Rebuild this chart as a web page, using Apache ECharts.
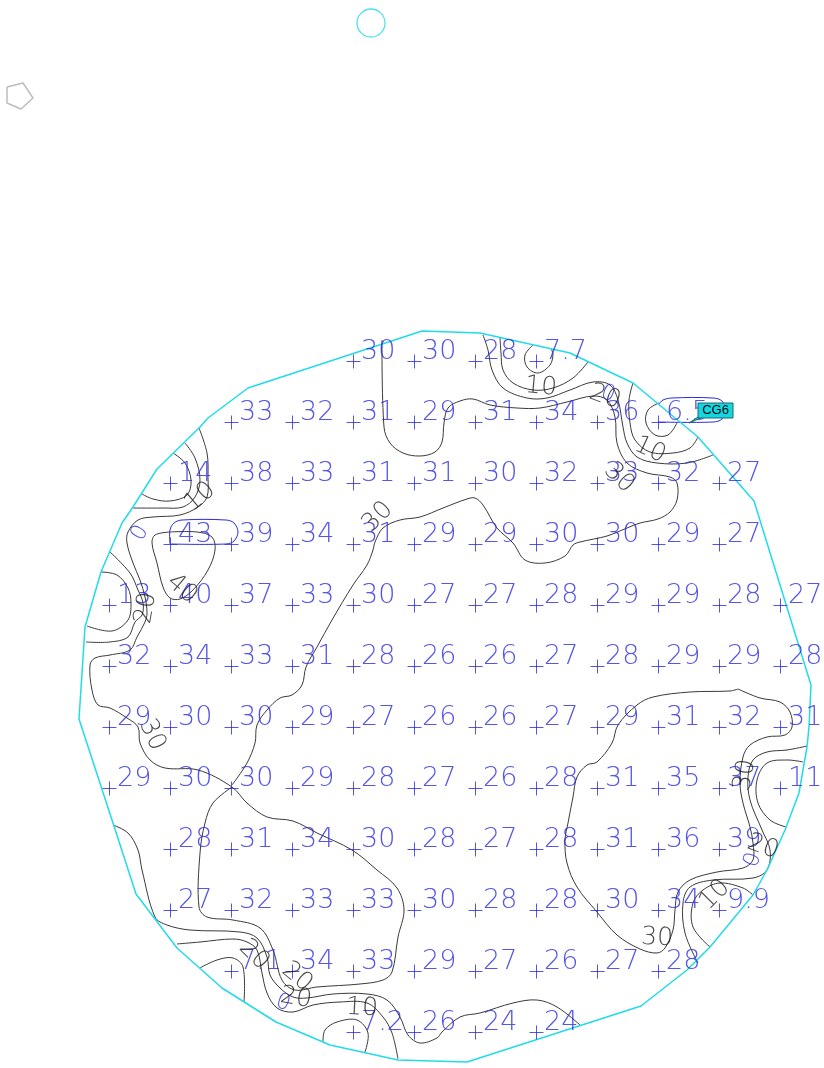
<!DOCTYPE html>
<html><head><meta charset="utf-8">
<style>html,body{margin:0;padding:0;background:#fff}#c{width:824px;height:1068px}</style>
<script src="https://cdn.jsdelivr.net/npm/echarts@6/dist/echarts.min.js"></script>
</head><body><div id="c"></div>
<script>
const colX=[109.5,170.5,231.5,292.5,353.5,414.5,475.5,536.5,597.5,658.5,719.5,780.5];
const rowY=[361.5,422.5,483.5,544.5,605.5,666.5,727.5,788.5,849.5,910.5,971.5,1032.5];
const samples=[
['','','','','30','30','28','7.7','','','',''],
['','','33','32','31','29','31','34','36','6.5','',''],
['','14','38','33','31','31','30','32','33','32','27',''],
['','43','39','34','31','29','29','30','30','29','27',''],
['13','40','37','33','30','27','27','28','29','29','28','27'],
['32','34','33','31','28','26','26','27','28','29','29','28'],
['29','30','30','29','27','26','26','27','29','31','32','31'],
['29','30','30','29','28','27','26','28','31','35','37','11'],
['','28','31','34','30','28','27','28','31','36','39',''],
['','27','32','33','33','30','28','28','30','34','9.9',''],
['','','7.1','34','33','29','27','26','27','28','',''],
['','','','','7.2','26','24','24','','','','']
];
const boundary=[[422,331],[480,333],[570,353],[633,383],[698,437],[754,501],[811,685],[809,727],[807,747],[799,793],[785,830],[767,870],[753,895],[710,947],[687,970],[641,1006],[467,1062],[398,1060],[330,1045],[276,1022],[222,988],[177,948],[136,894],[113,823],[79,719],[85,627],[101,572],[122,523],[133,507],[157,469],[200,427],[208,418],[248,388],[422,331]];
const pentagon=[[7,87],[23,83],[33,98],[21,109],[7,103],[7,87]];
const ringMark=[[371,23]];
const lineNorth=[[232,785],[247,763],[255,743],[257,725],[267,710],[280,698],[292,695],[302,685],[306,667],[317,647],[332,620],[353,585],[367,565],[373,550],[375,542],[383,528],[400,520],[420,517],[443,508],[467,499],[475,498],[483,505],[497,528],[513,543],[525,560],[545,563],[565,556],[573,545],[580,542],[607,536],[627,528],[640,523],[658,519],[670,512],[677,500],[677,483],[670,477],[647,473],[627,463],[617,443],[615,417],[607,400],[593,396],[567,402],[540,408],[517,408],[490,405],[473,399],[460,401],[448,408],[444,423],[442,442],[435,452],[420,456],[403,453],[390,443],[384,427],[382,340]];
const lineCentral=[[199,428],[207,453],[208,477],[207,497],[198,507],[180,515],[153,517],[138,520],[128,532],[127,543],[133,563],[140,580],[145,597],[147,613],[145,622],[137,637],[130,650],[110,655],[95,658],[90,665],[92,690],[98,705],[110,708],[127,718],[138,727],[140,743],[150,760],[165,768],[198,770],[232,787],[247,803],[267,817],[293,821],[317,833],[352,850],[377,870],[397,888],[404,910],[398,937],[392,972],[383,980],[360,984],[317,987],[295,990],[282,980],[273,950],[260,928],[233,920],[207,917],[199,907],[200,853],[205,823],[213,803],[232,787]];
const lineTopInner=[[500,337],[501,353],[503,370],[513,383],[533,390],[553,388],[573,378],[588,362]];
const lineTopOuter=[[483,335],[488,350],[492,370],[503,388],[527,398],[547,398],[570,390],[593,382],[610,385],[618,400],[623,427],[627,443],[637,457],[657,463],[687,463],[713,455]];
const lineTopRight=[[633,383],[629,400],[630,423],[635,440],[650,452],[673,453],[690,448],[698,437]];
const ringNorth=[[533,345],[525,355],[527,367],[538,373],[550,365],[553,354],[551,349]];
const ringEast=[[659,403],[648,410],[646,423],[655,435],[668,435],[677,423]];
const arcMid=[[185,443],[195,458],[200,480],[195,497],[183,507],[163,508],[133,508]];
const arcInner=[[173,453],[185,463],[191,480],[187,495],[170,501],[153,499],[142,494]];
const loopWest=[[170,532],[155,535],[152,543],[157,563],[163,587],[170,598],[180,599],[193,590],[208,570],[215,550],[212,537],[197,532],[170,532]];
const westOuter=[[110,552],[130,573],[138,590],[143,603],[142,615],[135,622],[128,637],[110,642],[86,642]];
const westInner=[[101,572],[117,575],[128,588],[131,603],[128,620],[112,631],[87,626]];
const lineSouth=[[113,825],[128,833],[138,850],[142,870],[155,917],[167,925],[190,930],[240,932],[257,938],[267,957],[270,975],[280,988],[293,997],[307,998],[333,994],[367,994],[387,1000],[400,1017],[408,1035],[420,1043],[437,1038],[442,1032],[460,1017],[480,1013],[513,1003],[537,1000],[557,1007],[580,1025]];
const lineSouthTwo=[[177,944],[200,942],[233,939],[247,942],[257,950],[262,973],[267,993],[277,1008],[293,1012],[313,1005],[340,1002],[367,1003],[383,1017],[392,1033],[398,1059]];
const hookSouth=[[200,968],[217,960],[233,958],[243,967],[244,1002]];
const ringSouth=[[323,1042],[325,1030],[337,1022],[357,1020],[368,1033],[365,1052]];
const blobEast=[[738,689],[760,698],[780,702],[790,712],[792,727],[785,735],[767,737],[750,745],[743,757],[740,783],[743,803],[750,827],[753,843],[753,860],[743,868],[717,872],[690,880],[678,892],[675,910],[673,930],[665,948],[657,953],[640,949],[617,935],[597,912],[577,887],[567,863],[565,840],[568,823],[573,797],[577,777],[587,765],[597,762],[612,743],[618,725],[637,705],[653,697],[690,692],[730,691],[738,689]];
const eastOuter=[[807,746],[787,750],[767,752],[753,760],[748,777],[750,800],[762,830],[770,850],[767,870],[753,878],[713,880],[690,887],[683,903],[685,933],[698,963]];
const eastInner=[[803,762],[787,760],[767,763],[757,780],[758,803],[770,820],[786,827]];
const southEast=[[753,895],[743,888],[720,883],[703,890],[693,903],[693,927],[710,947]];
const boxWest=[[170,544],[226,544],[234,541],[238,532],[234,523],[226,520],[182,520],[174,523],[170,530],[170,544]];
const boxEast=[[658,422],[713,422],[722,419],[725,410],[722,401],[713,398],[672,398],[663,400],[659,404]];
const contourText=['10','20','10','30','30','10','20','40','30','20','20','20','10','30','30','10','20'];
const contourX=[541,605,650,619,378,200,146,182,152,254,297,296,362,657,745,715,763];
const contourY=[387,397,450,478,517,497,608,589,735,955,977,998,1008,938,775,895,847];
const contourAngle=[-5,-20,-25,-45,45,40,80,-40,-65,-45,-40,-10,-3,-3,80,45,-20];
const blueZeroX=[140,608,283,753];
const blueZeroY=[533,394,1003,860];
const blueZeroAngle=[60,-20,-20,70];
const calloutText='CG6';
const calloutAnchor=[689,423];

const contours=[lineNorth,lineCentral,lineTopInner,lineTopOuter,lineTopRight,ringNorth,ringEast,arcMid,arcInner,loopWest,westOuter,westInner,lineSouth,lineSouthTwo,hookSouth,ringSouth,blobEast,eastOuter,eastInner,southEast];
const FONT='"DejaVu Sans"';
const BLUE='#2a2ae0', DARK='#3a3a3a', INK='#1c1c1c', CYAN='#22dbe8';
const samplePts=[];
samples.forEach((r,i)=>r.forEach((t,j)=>{if(t)samplePts.push([colX[j],rowY[i],t]);}));
const lineS=(d,color,width)=>({type:'line',data:d,symbol:'none',smooth:false,silent:true,clip:false,lineStyle:{color:color,width:width},z:2});
const curveS=(d,color,width)=>({type:'custom',coordinateSystem:'cartesian2d',data:d,encode:{x:0,y:1},silent:true,clip:false,z:2,
  renderItem:(p,api)=>p.dataIndex?null:({type:'polyline',shape:{points:d.map(q=>api.coord(q)),smooth:0.35},style:{fill:null,stroke:color,lineWidth:width}})});
const pinLabel=(texts,xs,ys,angles,color,size)=>({type:'scatter',symbol:'circle',symbolSize:1,silent:true,z:5,itemStyle:{color:'transparent'},
  data:texts.map((t,i)=>({value:[xs[i],ys[i],t],label:{rotate:angles[i]}})),
  label:{show:true,position:'inside',align:'center',verticalAlign:'middle',color:color,fontFamily:FONT,fontWeight:200,fontSize:size,formatter:p=>p.data.value[2]}});
const series=[];
series.push(lineS(boundary,CYAN,1.5));
series.push(lineS(pentagon,'#bdbdbd',1.5));
contours.forEach(c=>series.push(curveS(c,DARK,1)));
series.push(curveS(boxWest,BLUE,1));
series.push(curveS(boxEast,BLUE,1));
series.push({type:'scatter',data:ringMark,symbol:'circle',symbolSize:28,silent:true,itemStyle:{color:'transparent',borderColor:CYAN,borderWidth:1.3},z:3});
series.push({type:'scatter',data:samplePts,symbol:'path://M0 7H14M7 0V14',symbolSize:14,silent:true,
 itemStyle:{color:'transparent',borderColor:BLUE,borderWidth:1},z:4,
 label:{show:true,position:[15,-16],align:'left',verticalAlign:'top',color:BLUE,fontFamily:FONT,fontWeight:200,fontSize:27,lineHeight:27,formatter:p=>p.data[2]}});
series.push(pinLabel(contourText,contourX,contourY,contourAngle,INK,25));
series.push(pinLabel(blueZeroX.map(()=>'0'),blueZeroX,blueZeroY,blueZeroAngle,BLUE,22));
const chart=echarts.init(document.getElementById('c'),null,{renderer:'canvas'});
chart.setOption({animation:false,backgroundColor:'#fff',
 grid:{left:0,right:0,top:0,bottom:0},
 xAxis:{type:'value',min:0,max:824,show:false},
 yAxis:{type:'value',min:0,max:1068,inverse:true,show:false},
 series:series
});
const anchor=chart.convertToPixel({gridIndex:0},calloutAnchor);
chart.setOption({graphic:[
 {type:'polygon',z:10,shape:{points:[[anchor[0],anchor[1]],[anchor[0]+9,anchor[1]-6],[anchor[0]+14,anchor[1]-6]]},style:{fill:'#12d6e0',stroke:'#1a6a70',lineWidth:1}},
 {type:'rect',z:10,shape:{x:anchor[0]+9,y:anchor[1]-20,width:35,height:15},style:{fill:'#12d6e0',stroke:'#1a6a70',lineWidth:1}},
 {type:'text',z:11,style:{x:anchor[0]+26.5,y:anchor[1]-12.5,text:calloutText,fill:'#000',font:'13px "Liberation Sans"',align:'center',verticalAlign:'middle'}}
]});
</script></body></html>
